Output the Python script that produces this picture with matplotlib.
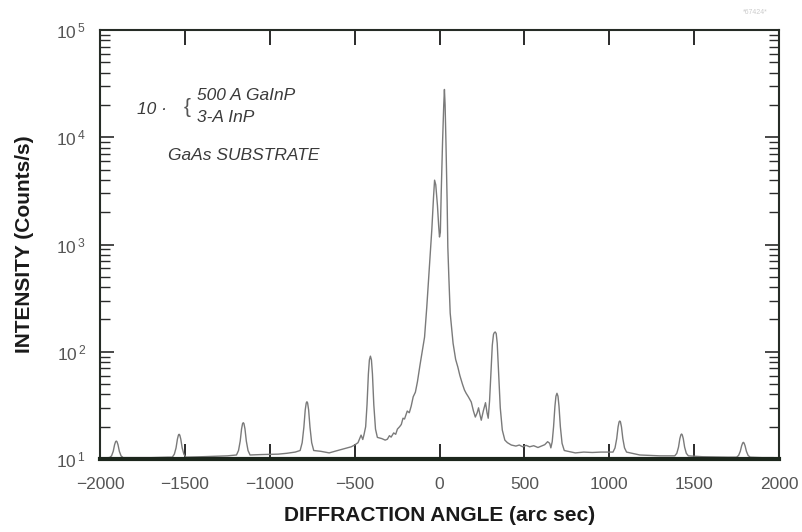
import math
import matplotlib
matplotlib.use("Agg")
import matplotlib.pyplot as plt
from matplotlib.ticker import FixedLocator, FuncFormatter, LogLocator, NullFormatter

plt.rcParams['font.family'] = ['Liberation Sans', 'DejaVu Sans']
plt.rcParams['mathtext.fontset'] = 'custom'
plt.rcParams['mathtext.rm'] = 'Liberation Sans'

# Rocking curve: angle (arc sec) vs intensity (counts/s)
angle = [-1950, -1944, -1932, -1922, -1914, -1908, -1904, -1900, -1894, -1886, -1876, -1864,
         -1700, -1600, -1574, -1562, -1552, -1544, -1538, -1534, -1530, -1524, -1516, -1506, -1494,
         -1400, -1250, -1196, -1184, -1174, -1166, -1160, -1156, -1152, -1146, -1138, -1128, -1116,
         -1050, -950, -900, -850, -821, -809, -799, -791, -785, -781, -777, -771, -763, -753, -741,
         -700, -650, -600, -550, -520, -500, -480, -470, -462, -452, -445,
         -435, -427, -419, -413, -407, -401, -395, -387, -377, -366, -340, -320, -307,
         -295, -285, -270, -258, -248, -235, -225, -215, -206, -190, -178,
         -167, -155, -142, -130, -115, -100, -88, -75, -60, -45, -35, -29,
         -22, -12, -5, 0, 5, 10, 18, 25, 29, 33, 38, 45, 49, 55, 63, 80, 95,
         108, 120, 135, 147, 157, 170, 187, 200, 211, 222, 230, 238, 246,
         258, 271, 280, 287, 295, 303, 311, 318, 322, 328, 334, 340, 348, 358, 370, 385,
         400, 423, 450, 470, 490, 510, 531, 555, 580, 600, 620, 637, 649,
         656, 664, 672, 680, 686, 692, 698, 704, 712, 722, 735, 800, 850, 900, 950,
         1003, 1022, 1034, 1044, 1052, 1058, 1062, 1066, 1072, 1080, 1090, 1102, 1180,
         1300, 1386, 1398, 1408, 1416, 1422, 1426, 1430, 1436, 1444, 1454, 1466, 1550, 1700,
         1750, 1762, 1772, 1780, 1786, 1790, 1794, 1800, 1808, 1818, 1830, 1900, 1965]
intensity = [10.3, 10.3, 10.7, 11.8, 13.6, 14.5, 14.7, 14.5, 13.6, 11.8, 10.7, 10.3,
             10.3, 10.4, 10.4, 11.1, 12.7, 15.3, 16.7, 17.0, 16.7, 15.3, 12.7, 11.1, 10.4,
             10.5, 10.7, 10.9, 12.0, 14.7, 19.1, 21.4, 21.8, 21.4, 19.1, 14.7, 12.0, 10.9,
             11.0, 11.1, 11.3, 11.6, 12.0, 14.2, 19.8, 28.7, 33.3, 34.2, 33.3, 28.7, 19.8, 14.2, 12.0,
             11.8, 11.4, 12.0, 12.6, 13.0, 13.5, 14.2, 15.5, 16.7, 15.2, 16.8,
             20.0, 32.0, 62.0, 84.0, 91.0, 84.0, 62.0, 32.0, 19.0, 15.9, 15.5, 15.0, 15.3,
             16.5, 16.0, 17.5, 17.0, 19.0, 20.0, 21.0, 24.0, 23.6, 28.0, 27.0,
             31.0, 38.0, 42.0, 52.5, 75.0, 105.0, 137.0, 260.0, 600.0, 1400.0, 2800.0, 3980.0,
             3600.0, 2300.0, 1500.0, 1175.0, 1300.0, 3000.0, 9000.0, 20000.0, 27900.0, 20000.0, 9000.0, 2500.0, 950.0, 500.0, 229.0, 120.0, 85.0,
             72.0, 60.0, 50.0, 44.0, 41.0, 38.0, 34.0, 28.0, 24.6, 27.0, 30.0, 26.0, 23.0,
             28.0, 33.5, 27.0, 24.0, 35.0, 65.0, 115.0, 145.0, 150.0, 153.0, 148.0, 120.0, 65.0, 30.0, 18.6, 15.0,
             14.2, 13.5, 13.2, 13.5, 13.0, 13.4, 13.0, 13.3, 12.8, 13.2, 13.6, 14.5, 14.0,
             12.7, 14.5, 20.0, 31.0, 38.5, 41.0, 38.5, 31.0, 20.0, 14.0, 12.0, 11.4, 11.6, 11.5, 11.6,
             11.6, 11.6, 12.7, 15.5, 19.9, 22.2, 22.6, 22.2, 19.9, 15.5, 12.7, 11.6, 10.9,
             10.7, 10.7, 11.3, 12.9, 15.5, 16.8, 17.1, 16.8, 15.5, 12.9, 11.3, 10.7, 10.5, 10.4,
             10.4, 10.8, 11.8, 13.3, 14.1, 14.3, 14.1, 13.3, 11.8, 10.8, 10.4, 10.3, 10.3]

x_ticks = [-2000, -1500, -1000, -500, 0, 500, 1000, 1500, 2000]

fig = plt.figure(figsize=(8.02, 5.32), dpi=100)
ax = fig.add_axes([100 / 802, 1 - 459 / 532, 679 / 802, 429 / 532])

ax.plot(angle, intensity, color='#7a7a7a', lw=1.0)

ax.set_yscale('log')
ax.set_xlim(-2000, 2000)
ax.set_ylim(10, 1e5)

ax.xaxis.set_major_locator(FixedLocator(x_ticks))
ax.xaxis.set_major_formatter(FuncFormatter(lambda v, p: f"{int(v)}".replace('-', '\u2212')))
ax.yaxis.set_major_locator(LogLocator(base=10))
ax.yaxis.set_minor_locator(LogLocator(base=10, subs=range(2, 10)))
ax.yaxis.set_minor_formatter(NullFormatter())
ax.yaxis.set_major_formatter(FuncFormatter(
    lambda v, p: r'$\mathregular{10^{\,%d}}$' % round(math.log10(v))))

ax.xaxis.set_ticks_position('both')
ax.yaxis.set_ticks_position('both')
ax.tick_params(axis='both', which='both', direction='in', colors='#2a2a2a',
               labelcolor='#555555', labelsize=12.5)
ax.tick_params(axis='x', which='major', labelbottom=True, labeltop=False,
               length=11, width=1.4, pad=13)
ax.tick_params(axis='y', which='major', labelleft=True, labelright=False,
               length=10, width=1.2, pad=10)
ax.tick_params(axis='y', which='minor', length=7, width=1.0)

for side in ['left', 'right', 'top']:
    ax.spines[side].set_color('#262c26')
    ax.spines[side].set_linewidth(1.5)
ax.spines['bottom'].set_color('#1c261c')
ax.spines['bottom'].set_linewidth(3)

ax.set_xlabel('DIFFRACTION ANGLE (arc sec)', fontsize=15, fontweight='bold',
              color='#1a1a1a', labelpad=10)
ax.set_ylabel('INTENSITY (Counts/s)', fontsize=15, fontweight='bold',
              color='#1a1a1a', labelpad=16)

txt = dict(style='italic', color='#3a3a3a', fontsize=12.5, va='center')
fig.text(137 / 802, 1 - 110 / 532, '10 \u00b7', **txt)
fig.text(184 / 802, 1 - 108 / 532, '{', color='#555555', fontsize=15, va='center',
         fontweight='light')
fig.text(197 / 802, 1 - 95 / 532, '500 A GaInP', **txt)
fig.text(197 / 802, 1 - 118 / 532, '3-A InP', **txt)
fig.text(168 / 802, 1 - 155 / 532, 'GaAs SUBSTRATE', **txt)

fig.text(755 / 802, 1 - 12 / 532, '*67424*', color='#cccccc', fontsize=5, ha='center', va='center')

fig.savefig('out.png', dpi=100)
